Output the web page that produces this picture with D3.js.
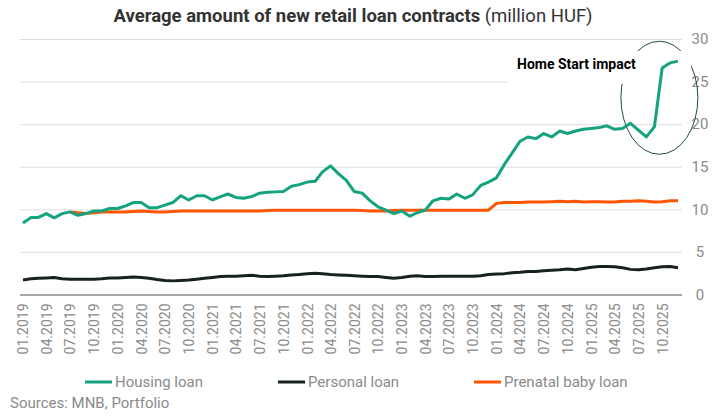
<!DOCTYPE html>
<html>
<head>
<meta charset="utf-8">
<script src="https://cdn.jsdelivr.net/npm/d3@7"></script>
<style>
  body { margin: 0; background: #fff; }
  svg { display: block; font-family: Roboto, sans-serif; }
</style>
</head>
<body>
<div id="chart"></div>
<script>
// monthly data, 01.2019 - 12.2025 (million HUF)
const months = d3.timeMonth.range(new Date(2019, 0, 1), new Date(2026, 0, 1));
const housing = [8.4,9.05,9.05,9.5,9.0,9.5,9.7,9.3,9.5,9.8,
  9.8,10.1,10.1,10.4,10.8,10.8,10.2,10.2,10.5,10.8,
  11.6,11.1,11.6,11.6,11.1,11.5,11.8,11.4,11.3,11.5,
  11.9,12.0,12.05,12.1,12.7,12.9,13.2,13.3,14.4,15.1,
  14.2,13.4,12.1,11.9,11.0,10.3,9.9,9.5,9.8,9.2,
  9.6,9.9,11.0,11.3,11.2,11.8,11.3,11.7,12.8,13.2,
  13.7,15.3,16.6,18.0,18.5,18.3,18.9,18.5,19.2,18.9,
  19.2,19.4,19.5,19.6,19.8,19.4,19.5,20.1,19.3,18.5,
  19.7,26.6,27.2,27.4];
const personal = [1.7,1.85,1.9,1.95,2.0,1.85,1.8,1.8,1.8,1.8,
  1.85,1.95,1.95,2.0,2.05,2.0,1.9,1.75,1.65,1.6,
  1.65,1.7,1.8,1.9,2.0,2.1,2.15,2.15,2.2,2.25,
  2.15,2.1,2.15,2.2,2.3,2.35,2.45,2.5,2.45,2.35,
  2.3,2.25,2.2,2.15,2.1,2.1,2.0,1.9,2.0,2.15,
  2.2,2.1,2.1,2.15,2.15,2.15,2.15,2.15,2.2,2.35,
  2.4,2.45,2.55,2.6,2.7,2.7,2.8,2.85,2.9,3.0,
  2.9,3.05,3.2,3.3,3.3,3.25,3.15,2.95,2.9,3.0,
  3.15,3.25,3.3,3.15];
// prenatal baby loan starts in 07.2019
const prenatal = [null,null,null,null,null,null,
  9.7,9.6,9.5,9.6,9.7,9.7,9.7,9.7,9.75,9.8,
  9.75,9.7,9.7,9.75,9.8,9.8,9.8,9.8,9.8,9.8,
  9.8,9.8,9.8,9.8,9.8,9.85,9.9,9.9,9.9,9.9,
  9.9,9.9,9.9,9.9,9.9,9.9,9.9,9.85,9.8,9.8,
  9.8,9.85,9.9,9.9,9.9,9.9,9.9,9.9,9.9,9.9,
  9.9,9.9,9.9,9.9,
  10.7,10.8,10.8,10.8,10.85,10.85,10.85,10.9,10.95,10.9,
  10.95,10.85,10.9,10.9,10.85,10.85,10.95,10.95,11.0,10.95,
  10.85,10.9,11.0,11.0];
const yTicks = [0, 5, 10, 15, 20, 25, 30];
const seriesNames = ['Housing loan', 'Personal loan', 'Prenatal baby loan'];
const seriesColors = ['#15a27e', '#17221e', '#ff5400'];
const seriesValues = [housing, personal, prenatal];

const WIDTH = 717, HEIGHT = 417;
const PLOT = {left: 20, right: 682, top: 39, bottom: 294.5};

const svg = d3.select('#chart').append('svg')
    .attr('width', WIDTH)
    .attr('height', HEIGHT);

// scales
const xScale = d3.scaleTime()
    .domain([months[0], months[months.length - 1]])
    .range([23, 678]);
const yScale = d3.scaleLinear()
    .domain([0, 30])
    .range([PLOT.bottom, PLOT.top]);

// title
const title = svg.append('text')
    .attr('x', 353)
    .attr('y', 22)
    .attr('text-anchor', 'middle')
    .attr('fill', '#333')
    .style('font-size', '18.5px');
title.append('tspan').attr('font-weight', 'bold').text('Average amount of new retail loan contracts');
title.append('tspan').text(' (million HUF)');

// y axis with gridlines on the right side
const yAxis = svg.append('g')
    .attr('transform', `translate(${PLOT.right}, 0)`)
    .call(d3.axisRight(yScale)
        .tickValues(yTicks)
        .tickSize(-(PLOT.right - PLOT.left))
        .tickFormat(d3.format('d')));
yAxis.select('.domain').remove();
yAxis.selectAll('.tick line')
    .attr('stroke', (d) => d === 0 ? '#8a8a8a' : '#dedede')
    .attr('stroke-width', (d) => d === 0 ? 1.5 : 1);
yAxis.selectAll('.tick text')
    .attr('x', 18)
    .attr('text-anchor', 'middle')
    .attr('fill', '#8a8a8a')
    .style('font-size', '15px')
    .style('font-family', 'Roboto, sans-serif');

// x axis, quarterly labels rotated
const quarterTicks = months.filter((d) => d.getMonth() % 3 === 0);
const xAxis = svg.append('g')
    .attr('transform', `translate(0, ${PLOT.bottom})`)
    .call(d3.axisBottom(xScale)
        .tickValues(quarterTicks)
        .tickSize(0)
        .tickFormat(d3.timeFormat('%m.%Y')));
xAxis.select('.domain').remove();
xAxis.selectAll('.tick text')
    .attr('transform', 'rotate(-90)')
    .attr('text-anchor', 'end')
    .attr('x', -9)
    .attr('y', 0)
    .attr('dy', '0.35em')
    .attr('fill', '#8a8a8a')
    .style('font-size', '14px')
    .style('font-family', 'Roboto, sans-serif');

// annotation ellipse (drawn under the label box and lines)
svg.append('ellipse')
    .attr('cx', xScale(new Date(2025, 8, 1)) + 5)
    .attr('cy', yScale(23.1))
    .attr('rx', 38.5)
    .attr('ry', 56.5)
    .attr('fill', 'none')
    .attr('stroke', '#1f4d3f')
    .attr('stroke-width', 1);

// white box behind the annotation text
svg.append('rect')
    .attr('x', 507)
    .attr('y', 51)
    .attr('width', 184)
    .attr('height', 33)
    .attr('fill', '#fff');

svg.append('text')
    .attr('x', 517)
    .attr('y', 69)
    .attr('fill', '#000')
    .attr('font-weight', 'bold')
    .style('font-size', '14px')
    .text('Home Start impact');

// lines
const line = d3.line()
    .defined((d) => d !== null)
    .x((d, i) => xScale(months[i]))
    .y((d) => yScale(d));

const lineGroup = svg.append('g').attr('id', 'line-group');
// draw order: personal, prenatal, housing on top
[1, 2, 0].forEach((k) => {
    lineGroup.append('path')
        .datum(seriesValues[k])
        .attr('d', line)
        .attr('fill', 'none')
        .attr('stroke', seriesColors[k])
        .attr('stroke-width', 3)
        .attr('stroke-linejoin', 'round');
});

// legend
const legendX = [85, 278, 474];
const legend = svg.append('g').attr('id', 'legend');
seriesNames.forEach((name, i) => {
    legend.append('line')
        .attr('x1', legendX[i])
        .attr('x2', legendX[i] + 27)
        .attr('y1', 382)
        .attr('y2', 382)
        .attr('stroke', seriesColors[i])
        .attr('stroke-width', 3);
    legend.append('text')
        .attr('x', legendX[i] + 30)
        .attr('y', 387)
        .attr('fill', '#8a8a8a')
        .style('font-size', '15px')
        .text(name);
});

// source
svg.append('text')
    .attr('x', 10)
    .attr('y', 408)
    .attr('fill', '#8a8a8a')
    .style('font-size', '15px')
    .text('Sources: MNB, Portfolio');
</script>
</body>
</html>
